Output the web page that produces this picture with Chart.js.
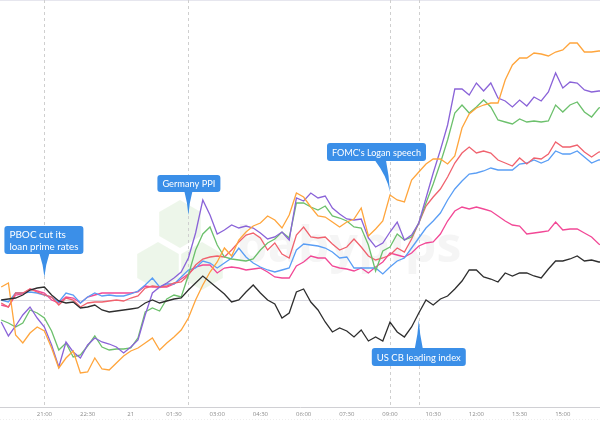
<!DOCTYPE html>
<html><head><meta charset="utf-8">
<script src="https://cdn.jsdelivr.net/npm/chart.js@4.4.1/dist/chart.umd.min.js"></script>
<style>html,body{margin:0;padding:0;background:#fff;}#wrap{width:600px;height:433px;position:relative;}</style>
</head><body><div id="wrap"><canvas id="c"></canvas></div>
<script>
// 15-minute timestamps (categories)
const times = ['19:30','19:45','20:00','20:15','20:30','20:45','21:00','21:15','21:30','21:45','22:00','22:15','22:30','22:45','23:00','23:15','23:30','23:45','00:00','00:15','00:30','00:45','01:00','01:15','01:30','01:45','02:00','02:15','02:30','02:45','03:00','03:15','03:30','03:45','04:00','04:15','04:30','04:45','05:00','05:15','05:30','05:45','06:00','06:15','06:30','06:45','07:00','07:15','07:30','07:45','08:00','08:15','08:30','08:45','09:00','09:15','09:30','09:45','10:00','10:15','10:30','10:45','11:00','11:15','11:30','11:45','12:00','12:15','12:30','12:45','13:00','13:15','13:30','13:45','14:00','14:15','14:30','14:45','15:00','15:15','15:30','15:45','16:00','16:15','16:30'];
const tickTimes  = ['21:00','22:30','00:00','01:30','03:00','04:30','06:00','07:30','09:00','10:30','12:00','13:30','15:00'];
const tickLabels = ['21:00','22:30','21','01:30','03:00','04:30','06:00','07:30','09:00','10:30','12:00','13:30','15:00'];

// series values (relative change, x100)
const blackSeries  = [0,1,2,5,10,12,13,5,-1,-3,-2,-8,-7,-5,-10,-12,-11,-10,-9,-8,-3,0,-3,-1,1,2,10,17,24,18,12,6,-2,0,8,15,7,0,-4,-18,-13,8,11,-2,-10,-22,-32,-28,-31,-37,-30,-41,-37,-41,-22,-32,-37,-27,-13,0,-5,1,4,11,19,30,30,23,21,18,27,24,27,27,24,22,31,39,39,41,44,39,40,38,38];
const orangeSeries = [13,17,-35,-43,-33,-27,-31,-48,-68,-58,-51,-73,-72,-58,-69,-70,-63,-56,-51,-48,-43,-38,-50,-43,-37,-30,-18,0,15,28,38,52,44,60,68,74,77,84,80,72,85,107,103,93,84,83,78,73,78,81,92,64,71,79,105,100,98,120,128,136,141,141,136,144,172,186,192,195,197,197,220,235,242,242,247,246,244,248,250,257,257,248,248,249,249];
const purpleSeries = [-22,-36,-26,-15,-7,-18,-27,-45,-67,-42,-52,-58,-45,-38,-42,-44,-47,-53,-47,-40,-15,7,13,17,22,28,42,67,100,85,66,70,75,72,74,72,67,61,63,68,60,102,99,107,102,104,92,86,81,80,81,62,53,57,68,78,60,65,77,102,127,150,175,211,211,205,217,209,217,202,199,193,200,194,203,199,208,227,212,218,217,210,208,209,209];
const greenSeries  = [-20,-23,-27,-23,-10,-13,-18,-31,-50,-43,-57,-55,-46,-36,-47,-50,-49,-49,-48,-38,-12,-8,-11,1,5,3,25,50,66,73,55,43,41,40,39,41,50,57,61,68,62,97,97,93,90,94,84,82,79,73,72,55,29,49,53,66,60,63,77,97,116,137,160,187,195,187,193,200,193,180,178,176,181,178,179,178,179,195,188,195,198,188,183,192,194];
const redSeries    = [-3,-7,7,7,11,8,5,3,-5,2,0,-7,-3,-2,-2,-1,0,-1,2,4,12,14,13,14,17,18,25,35,41,43,44,43,50,58,65,67,62,50,57,46,42,65,73,63,62,63,56,50,53,61,53,44,40,42,45,52,48,61,77,94,103,111,123,137,147,153,147,149,147,140,137,134,142,136,142,141,146,158,153,153,155,148,143,148,149];
const blueSeries   = [0,-2,7,7,8,7,5,3,-2,7,5,-3,3,7,4,5,4,4,6,9,15,22,13,16,16,23,30,32,39,37,32,37,42,52,43,37,33,30,28,30,32,50,56,55,54,52,48,42,43,32,32,32,32,26,33,39,42,52,62,72,79,87,100,111,119,126,127,129,132,130,130,130,136,137,140,137,140,149,146,146,149,143,137,140,141];
const pinkSeries   = [-5,-7,5,6,11,9,7,0,-3,3,2,-3,3,5,7,7,7,7,7,8,14,13,13,13,16,21,26,33,35,35,27,32,33,32,30,31,32,28,23,22,22,34,38,44,42,42,34,32,31,29,32,27,33,38,47,45,43,47,54,57,58,66,79,89,93,91,93,91,89,84,79,75,74,66,67,68,69,78,70,71,71,67,63,56,53];

const eventTimes = ['21:00','02:00','09:00','10:00'];
const eventTexts = [['PBOC cut its','loan prime rates'],['Germany PPI'],["FOMC's Logan speech"],['US CB leading index']];

// callout geometry (pixels, relative to event x)
const calloutLayout = [
  {dx:-40, top:226, w:79, h:28, tipY:277, bL:-5, bR:5},
  {dx:-31, top:175, w:63, h:17, tipY:215, bL:-4, bR:4},
  {dx:-63, top:143, w:99, h:18, tipY:192, bL:-15, bR:-4},
  {dx:-47, top:348, w:94, h:18, tipY:320, bL:-4, bR:4}
];

const mk = (arr) => arr.map((v,i)=>({x:i, y:v}));
const ds = (label, arr, color) => ({label, data: mk(arr), borderColor: color, borderWidth: 1.3, pointRadius: 0, tension: 0, fill:false});

const decorPlugin = {
  id:'decor',
  beforeDatasetsDraw(chart){
    const {ctx, chartArea:a, scales:{x,y}} = chart;
    ctx.save();
    ctx.fillStyle = 'rgba(214,236,208,0.45)';
    const hex = (cx,cy,r)=>{ctx.beginPath();for(let k=0;k<6;k++){const an=Math.PI/6+k*Math.PI/3;ctx.lineTo(cx+r*Math.cos(an),cy+r*Math.sin(an));}ctx.closePath();ctx.fill();};
    hex(180,224,24); hex(158,266,24); hex(202,266,24);
    ctx.fillStyle = 'rgba(225,225,225,0.35)';
    ctx.font = 'bold 50px "Open Sans", sans-serif';
    ctx.textBaseline = 'alphabetic';
    ctx.fillText('babypips', 236, 262);
    ctx.strokeStyle = '#e6e6ee'; ctx.lineWidth = 1;
    ctx.beginPath(); ctx.moveTo(a.left, a.top+0.5); ctx.lineTo(a.right, a.top+0.5); ctx.stroke();
    const y0 = Math.round(y.getPixelForValue(0))+0.5;
    ctx.strokeStyle = '#d8d8e0';
    ctx.beginPath(); ctx.moveTo(a.left, y0); ctx.lineTo(a.right, y0); ctx.stroke();
    ctx.strokeStyle = '#cfcfcf'; ctx.setLineDash([3,3]);
    eventTimes.forEach(t=>{
      const px = Math.round(x.getPixelForValue(times.indexOf(t)))+0.5;
      ctx.beginPath(); ctx.moveTo(px, a.top); ctx.lineTo(px, a.bottom); ctx.stroke();
    });
    ctx.setLineDash([]);
    ctx.strokeStyle = '#eeeeee';
    ctx.setLineDash([1,2]);
    ctx.beginPath(); ctx.moveTo(0, 419.5); ctx.lineTo(600, 419.5); ctx.stroke();
    ctx.restore();
  },
  afterDatasetsDraw(chart){
    const {ctx, scales:{x}} = chart;
    ctx.save();
    eventTimes.forEach((t,k)=>{
      const ex = x.getPixelForValue(times.indexOf(t));
      const L = calloutLayout[k];
      const bx = ex + L.dx, by = L.top;
      ctx.fillStyle = '#3b8fe8';
      const r = 3;
      ctx.beginPath();
      ctx.moveTo(bx+r,by); ctx.lineTo(bx+L.w-r,by); ctx.quadraticCurveTo(bx+L.w,by,bx+L.w,by+r);
      ctx.lineTo(bx+L.w,by+L.h-r); ctx.quadraticCurveTo(bx+L.w,by+L.h,bx+L.w-r,by+L.h);
      ctx.lineTo(bx+r,by+L.h); ctx.quadraticCurveTo(bx,by+L.h,bx,by+L.h-r);
      ctx.lineTo(bx,by+r); ctx.quadraticCurveTo(bx,by,bx+r,by);
      ctx.closePath(); ctx.fill();
      const baseY = L.tipY > by ? by+L.h-0.5 : by+0.5;
      ctx.beginPath();
      ctx.moveTo(ex+L.bL, baseY);
      ctx.quadraticCurveTo(ex+(L.bL*0.2), (baseY+L.tipY)/2, ex, L.tipY);
      ctx.quadraticCurveTo(ex+(L.bR*0.2), (baseY+L.tipY)/2, ex+L.bR, baseY);
      ctx.closePath(); ctx.fill();
      ctx.fillStyle = '#ffffff';
      ctx.font = '10px Lato, "Open Sans", sans-serif';
      ctx.textBaseline = 'middle';
      ctx.textAlign = 'left';
      const lines = eventTexts[k];
      const lh = 12;
      const y0 = by + L.h/2 - (lines.length-1)*lh/2;
      const avail = L.w - 10;
      lines.forEach((s,j)=>{
        const tw = ctx.measureText(s).width;
        const sc = Math.min(1, avail/tw);
        ctx.save();
        ctx.translate(bx+5, y0 + j*lh + 0.5);
        ctx.scale(sc, 1);
        ctx.fillText(s, 0, 0);
        ctx.restore();
      });
    });
    ctx.restore();
  }
};

new Chart(document.getElementById('c'), {
  type:'line',
  data:{ datasets:[
    ds('US CB leading', blackSeries, '#2e2e2e'),
    ds('Orange', orangeSeries, '#ffa53c'),
    ds('Purple', purpleSeries, '#8a63d8'),
    ds('Green', greenSeries, '#6cc06c'),
    ds('Red', redSeries, '#f0626e'),
    ds('Blue', blueSeries, '#5a9ef5'),
    ds('Pink', pinkSeries, '#f24896')
  ]},
  options:{
    responsive:true, maintainAspectRatio:false, animation:false,
    layout:{padding:0},
    plugins:{legend:{display:false}, tooltip:{enabled:false}},
    scales:{
      x:{ type:'linear', min:-1.2/7.2, max:(600-1.2)/7.2,
          grid:{display:false, drawTicks:false},
          border:{display:true, color:'#d0d0d4'},
          afterBuildTicks:(s)=>{ s.ticks = tickTimes.map(t=>({value: times.indexOf(t)})); },
          afterFit:(s)=>{ s.height = 26; },
          ticks:{ autoSkip:false, maxRotation:0, padding:4, color:'#8c8c8c',
                  font:{family:'"Open Sans", sans-serif', size:6},
                  callback:(v,i)=>tickLabels[i] } },
      y:{ display:false, min:-107, max:300 }
    }
  },
  plugins:[decorPlugin]
});
</script></body></html>
